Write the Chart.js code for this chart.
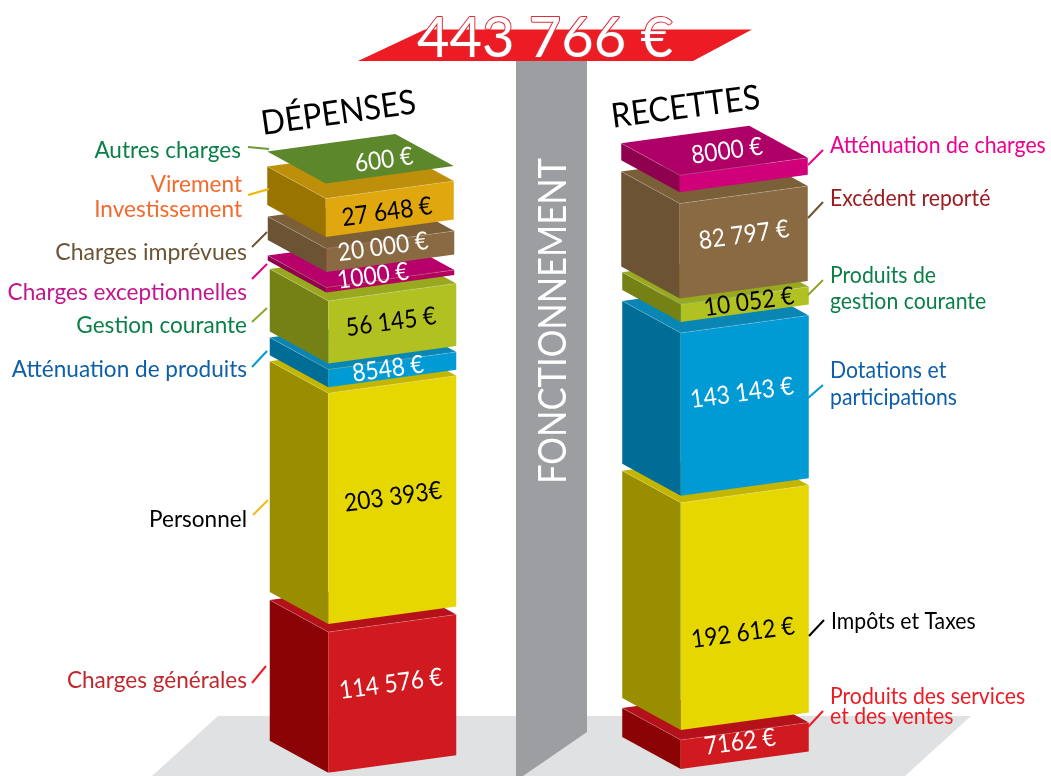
<!DOCTYPE html>
<html lang="fr">
<head>
<meta charset="utf-8">
<title>Fonctionnement : dépenses et recettes</title>
<style>
html,body{margin:0;padding:0;background:#fff;overflow:hidden}
canvas{display:block}
</style>
<script src="https://cdn.jsdelivr.net/npm/chart.js@4/dist/chart.umd.js"></script>
</head>
<body>
<canvas id="c" width="1051" height="776"></canvas>
<script>
// ---------- data, bottom of each column first ----------
const columns = ["DÉPENSES", "RECETTES"];
const totalLabel = "443 766 €";
const sectionLabel = "FONCTIONNEMENT";

const depCategories = ["Charges générales", "Personnel", "Atténuation de produits", "Gestion courante", "Charges exceptionnelles", "Charges imprévues", "Virement Investissement", "Autres charges"];
const depValues = [114576, 203393, 8548, 56145, 1000, 20000, 27648, 600];
const depValueLabels = ["114 576 €", "203 393€", "8548 €", "56 145 €", "1000 €", "20 000 €", "27 648 €", "600 €"];

const recCategories = ["Produits des services et des ventes", "Impôts et Taxes", "Dotations et participations", "Produits de gestion courante", "Excédent reporté", "Atténuation de charges"];
const recValues = [7162, 192612, 143143, 10052, 82797, 8000];
const recValueLabels = ["7162 €", "192 612 €", "143 143 €", "10 052 €", "82 797 €", "8000 €"];

// ---------- styles ----------
const depFront = ["#d11a20", "#e7d700", "#009ad5", "#b1c122", "#b4005f", "#8a6a42", "#e1a70e", "#5c872a"];
const depSide  = ["#8b0304", "#998e00", "#006d96", "#758115", "#8f004f", "#6b5333", "#9a7400", "#5c872a"];
const depTop   = ["#b5111a", "#c4b600", "#0a86b5", "#98a81f", "#b7006a", "#7b5f39", "#bd8f0a", "#5c872a"];
const recFront = ["#d11a20", "#e7d700", "#009ad5", "#b1c122", "#8a6a42", "#cf007a"];
const recSide  = ["#8b0304", "#998e00", "#006d96", "#758115", "#6b5333", "#8f004f"];
const recTop   = ["#b5111a", "#c4b600", "#0a86b5", "#98a81f", "#7b5f39", "#af0068"];
const depValueColors = ["#fff", "#000", "#fff", "#000", "#fff", "#fff", "#000", "#fff"];
const recValueColors = ["#fff", "#000", "#fff", "#000", "#fff", "#fff"];

const FONT = 'Lato, "Noto Sans", sans-serif';

// ---------- layout of the 3D blocks (pixels) ----------
const block3D = { sideWidth: 58.5, sideRise: 32, frontRise: 17.5 };
const depFit = {
  gap:  [0, 8, 6, 6, 8.4, 15.6, 11.6, 15],
  grow: [8.9, -3, 7.9, -2, 3.85, 0.4, 6.6, -0.69],
  dx:   [0, 0, 0, 0, -2, -2, -2.5, -2.5]
};
const recFit = {
  gap:  [3.7, 10, 7, 11, 5.7, 11.3],
  grow: [20.8, 5.7, -1.7, 6.1, -0.2, 7.8],
  dx:   [0, 0, 0, 0, -1, -1]
};
const depValuePos = [[391,684],[393,497],[388,369],[391,322],[373,276],[383,247],[387,212],[384,160]];
const recValuePos = [[740,742],[743,633],[742,393],[749,302],[744,235],[727,151]];
const sideLabels = [
  {t:"Autres charges", x:241, y:158, a:"right", s:.94, c:"#0b7f47", l:[248,147,269,149], lc:"#6b9a3a"},
  {t:"Virement", x:242, y:192, a:"right", s:.94, c:"#f26a2e"},
  {t:"Investissement", x:242, y:217, a:"right", s:.94, c:"#f26a2e", l:[248,195,269,189], lc:"#f5b400"},
  {t:"Charges imprévues", x:247, y:260, a:"right", s:.96, c:"#6b5535", l:[252,247,267,232], lc:"#6b5535"},
  {t:"Charges exceptionnelles", x:247, y:300, a:"right", s:.94, c:"#c2168f", l:[252,279,267,264], lc:"#e6007e"},
  {t:"Gestion courante", x:247, y:333, a:"right", s:.94, c:"#0b7f47", l:[252,322,267,308], lc:"#8fa52a"},
  {t:"Atténuation de produits", x:247, y:377, a:"right", s:.94, c:"#0f5fa8", l:[252,367,267,351], lc:"#009ad5"},
  {t:"Personnel", x:247, y:527, a:"right", s:.94, c:"#000", l:[253,515,268,500], lc:"#f5b81c"},
  {t:"Charges générales", x:247, y:688, a:"right", s:.94, c:"#c1272d", l:[252,683,266,666], lc:"#ed1c24"},
  {t:"Atténuation de charges", x:830, y:153, a:"left", s:.885, c:"#ec008c", l:[808,165,823,150], lc:"#ec008c"},
  {t:"Excédent reporté", x:830, y:206, a:"left", s:.885, c:"#9b1c20", l:[808,218,823,202], lc:"#6b5535"},
  {t:"Produits de", x:830, y:283, a:"left", s:.885, c:"#0b7f47", l:[808,295,823,280], lc:"#8fa52a"},
  {t:"gestion courante", x:830, y:309, a:"left", s:.885, c:"#0b7f47"},
  {t:"Dotations et", x:830, y:378, a:"left", s:.885, c:"#0f5fa8", l:[808,398,823,385], lc:"#009ad5"},
  {t:"participations", x:830, y:405, a:"left", s:.885, c:"#0f5fa8"},
  {t:"Impôts et Taxes", x:831, y:629, a:"left", s:.885, c:"#000", l:[809,636,824,620], lc:"#000"},
  {t:"Produits des services", x:830, y:704, a:"left", s:.885, c:"#ed1c24", l:[808,727,823,711], lc:"#ed1c24"},
  {t:"et des ventes", x:830, y:724, a:"left", s:.885, c:"#ed1c24"}
];

// ---------- bars are drawn as extruded blocks ----------
function poly(ctx, pts, fill) {
  ctx.beginPath();
  pts.forEach((p, i) => i ? ctx.lineTo(p[0], p[1]) : ctx.moveTo(p[0], p[1]));
  ctx.closePath();
  ctx.fillStyle = fill;
  ctx.fill();
}
function narrowText(ctx, text, x, y, rotDeg, sx) {
  ctx.save();
  ctx.translate(x, y);
  ctx.rotate(rotDeg * Math.PI / 180);
  ctx.scale(sx, 1);
  ctx.fillText(text, 0, 0);
  ctx.restore();
}
Chart.BarElement.prototype.draw = function (ctx) {
  const { sideWidth: s, sideRise: rl, frontRise: rr } = block3D;
  const x0 = this.x - this.width / 2, x1 = this.x + this.width / 2, t = this.y, b = this.base;
  const st = this.$block || {};
  ctx.save();
  if (b - t > 0.5) {
    poly(ctx, [[x0 - s, b - rl], [x0, b], [x0, t], [x0 - s, t - rl]], st.side);
    poly(ctx, [[x0, b], [x1, b - rr], [x1, t - rr], [x0, t]], this.options.backgroundColor);
  }
  poly(ctx, [[x0, t], [x1, t - rr], [x1 - s, t - rr - rl], [x0 - s, t - rl]], st.top);
  if (b - t > 0.5) {
    ctx.strokeStyle = "rgba(255,255,255,0.3)";
    ctx.lineWidth = 0.6;
    ctx.beginPath();
    ctx.moveTo(x0 - s, t - rl); ctx.lineTo(x0, t); ctx.lineTo(x1, t - rr);
    ctx.stroke();
  }
  ctx.restore();
};

const fitPlugin = {
  id: "fit",
  afterDatasetsUpdate(chart) {
    const metas = chart.data.datasets.map((d, i) => chart.getDatasetMeta(i));
    const zero = chart.scales.y.getPixelForValue(0);
    [[depCategories.length, 0, depFit, depSide, depTop, 0], [recCategories.length, depCategories.length, recFit, recSide, recTop, 1]]
      .forEach(([n, start, fit, side, top, col]) => {
        let prevTop = zero;
        for (let i = 0; i < n; i++) {
          const el = metas[start + i].data[col];
          const h = Math.abs(el.base - el.y) + fit.grow[i];
          const base = prevTop - fit.gap[i];
          el.base = base;
          el.y = base - h;
          el.x += fit.dx[i];
          el.$block = { side: side[i], top: top[i] };
          prevTop = el.y;
        }
      });
  }
};

const scenePlugin = {
  id: "scene",
  beforeDatasetsDraw(chart) {
    const ctx = chart.ctx;
    ctx.save();
    poly(ctx, [[218,716],[971,716],[905,776],[152,776]], "#e0e1e3");
    poly(ctx, [[516,61],[587,61],[587,732],[523,776],[516,776]], "#9d9ea1");
    poly(ctx, [[358,61],[425,29.5],[752,29.5],[693,61]], "#ed1c24");
    ctx.restore();
  },
  afterDatasetsDraw(chart) {
    const ctx = chart.ctx;
    ctx.save();
    ctx.textBaseline = "alphabetic";
    // total
    ctx.textAlign = "center";
    ctx.font = "400 56px " + FONT;
    ctx.lineJoin = "round";
    ctx.save();
    ctx.translate(545, 57);
    ctx.lineWidth = 2;
    ctx.strokeStyle = "#d8303a";
    ctx.strokeText(totalLabel, 0, 0);
    ctx.fillStyle = "#fff";
    ctx.fillText(totalLabel, 0, 0);
    ctx.restore();
    // column titles
    ctx.fillStyle = "#000";
    ctx.font = "400 34px " + FONT;
    narrowText(ctx, columns[0], 340, 124, -8.1, 0.93);
    narrowText(ctx, columns[1], 687, 118, -7.4, 0.93);
    // pillar title
    ctx.fillStyle = "#fff";
    ctx.font = "400 38px " + FONT;
    narrowText(ctx, sectionLabel, 566, 321, -90, 0.91);
    // values on blocks
    ctx.font = "400 25px " + FONT;
    ctx.textBaseline = "middle";
    const vals = (labels, pos, colors) => labels.forEach((t, i) => {
      ctx.fillStyle = colors[i];
      narrowText(ctx, t, pos[i][0], pos[i][1], -7.8, 0.91);
    });
    vals(depValueLabels, depValuePos, depValueColors);
    vals(recValueLabels, recValuePos, recValueColors);
    // category names and leaders
    ctx.textBaseline = "alphabetic";
    ctx.font = "400 24px " + FONT;
    sideLabels.forEach(o => {
      ctx.textAlign = o.a; ctx.fillStyle = o.c;
      narrowText(ctx, o.t, o.x, o.y, 0, o.s);
      if (o.l) {
        ctx.strokeStyle = o.lc; ctx.lineWidth = 2;
        ctx.beginPath(); ctx.moveTo(o.l[0], o.l[1]); ctx.lineTo(o.l[2], o.l[3]); ctx.stroke();
      }
    });
    ctx.restore();
  }
};

const datasets = [
  ...depCategories.map((c, i) => ({ label: c, data: [depValues[i], null], backgroundColor: depFront[i], stack: "col", order: -i })),
  ...recCategories.map((c, i) => ({ label: c, data: [null, recValues[i]], backgroundColor: recFront[i], stack: "col", order: -i }))
];

new Chart(document.getElementById("c"), {
  type: "bar",
  data: { labels: columns, datasets },
  plugins: [fitPlugin, scenePlugin],
  options: {
    responsive: false,
    animation: false,
    events: [],
    layout: { padding: { left: 216, right: 130, top: 0, bottom: 3.3 } },
    barThickness: 128,
    scales: {
      x: { display: false, stacked: true, grid: { display: false } },
      y: { display: false, stacked: true, min: 0, max: 672000, grid: { display: false } }
    },
    plugins: { legend: { display: false }, tooltip: { enabled: false }, title: { display: false } }
  }
});
</script>
</body>
</html>
